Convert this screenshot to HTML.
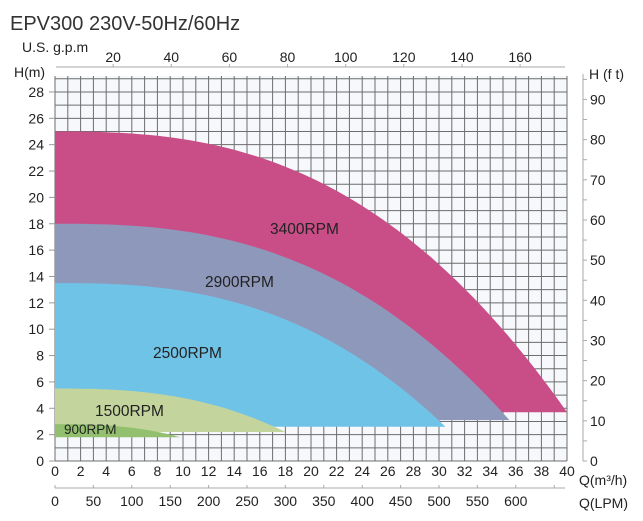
<!DOCTYPE html>
<html><head><meta charset="utf-8"><style>
html,body{margin:0;padding:0;background:#fff;}
svg{display:block;font-family:"Liberation Sans",sans-serif;}
</style></head><body>
<svg id="s" width="643" height="521" viewBox="0 0 643 521" xmlns="http://www.w3.org/2000/svg">
<text x="10" y="30" font-size="20" fill="#333">EPV300 230V-50Hz/60Hz</text>
<rect x="55" y="76" width="512" height="385" fill="#f6f8fb"/>
<g id="grid" stroke="#555" stroke-width="1" opacity="0.85"></g>
<g id="areas"></g>
<g font-size="15.5" fill="#222">
<text x="270" y="234">3400RPM</text>
<text x="205" y="287">2900RPM</text>
<text x="153" y="358">2500RPM</text>
<text x="95" y="416">1500RPM</text>
<text x="64" y="434" font-size="13.5">900RPM</text>
</g>
<g id="axes" font-size="14" fill="#222"></g>
</svg>
<script>
var NS="http://www.w3.org/2000/svg";
function el(p,t,a,txt){var e=document.createElementNS(NS,t);for(var k in a)e.setAttribute(k,a[k]);if(txt!=null)e.textContent=txt;document.getElementById(p).appendChild(e);return e;}
var X0=55,SX=12.8,Y0=461,SY=13.18;
function X(q){return X0+q*SX;} function Y(h){return Y0-h*SY;}
for(var q=0;q<=40;q++){el("grid","line",{x1:X(q),y1:76,x2:X(q),y2:461});}
for(var h=0;h<=29;h++){el("grid","line",{x1:55,y1:Y(h),x2:567,y2:Y(h)});}
var curves=[
 {h0:25,qe:40,hb:3.7,c:"#c94e88"},
 {h0:18,qe:35.5,hb:3.1,c:"#8e98bb"},
 {h0:13.5,qe:30.5,hb:2.6,c:"#6fc3e7"},
 {h0:5.5,qe:18,hb:2.2,c:"#c3d49c"},
 {h0:2.8,qe:9.8,hb:1.8,c:"#93c06e"}];
curves.forEach(function(cv){
 var n=2.6,cc=(cv.h0-cv.hb)/Math.pow(cv.qe,n),d="M"+X(0)+","+Y(cv.hb);
 for(var i=0;i<=60;i++){var q=cv.qe*i/60;d+=" L"+X(q).toFixed(1)+","+Y(cv.h0-cc*Math.pow(q,n)).toFixed(1);}
 d+=" Z";el("areas","path",{d:d,fill:cv.c});
});
for(var h=0;h<=28;h+=2){el("axes","text",{x:44,y:Y(h)+5,"text-anchor":"end"},String(h));el("axes","line",{x1:49,y1:Y(h),x2:55,y2:Y(h),stroke:"#999"});}
el("axes","text",{x:14,y:77},"H(m)");
el("axes","text",{x:22,y:52},"U.S. g.p.m");
el("axes","line",{x1:56,y1:67,x2:565,y2:67,stroke:"#aaa"});
for(var g=20;g<=160;g+=20){var x=X(g*0.2271);el("axes","text",{x:x,y:62,"text-anchor":"middle"},String(g));el("axes","line",{x1:x,y1:64,x2:x,y2:67,stroke:"#aaa"});}
el("axes","line",{x1:583,y1:74,x2:583,y2:461,stroke:"#aaa"});
for(var f=0;f<=95;f+=5){var y=Y(f*0.3048);el("axes","line",{x1:583,y1:y,x2:587,y2:y,stroke:"#aaa"});if(f%10==0)el("axes","text",{x:590,y:y+5},String(f));}
el("axes","text",{x:589,y:79},"H (f t)");
for(var q=0;q<=40;q+=2){el("axes","text",{x:X(q),y:476,"text-anchor":"middle"},String(q));}
el("axes","text",{x:579,y:485},"Q(m³/h)");
el("axes","line",{x1:55,y1:488,x2:565,y2:488,stroke:"#aaa"});
for(var l=0;l<=650;l+=50){var x=X(l*0.06);el("axes","line",{x1:x,y1:485,x2:x,y2:488,stroke:"#aaa"});if(l<=600)el("axes","text",{x:x,y:506,"text-anchor":"middle"},String(l));}
el("axes","text",{x:579,y:508},"Q(LPM)");
</script>
</body></html>
